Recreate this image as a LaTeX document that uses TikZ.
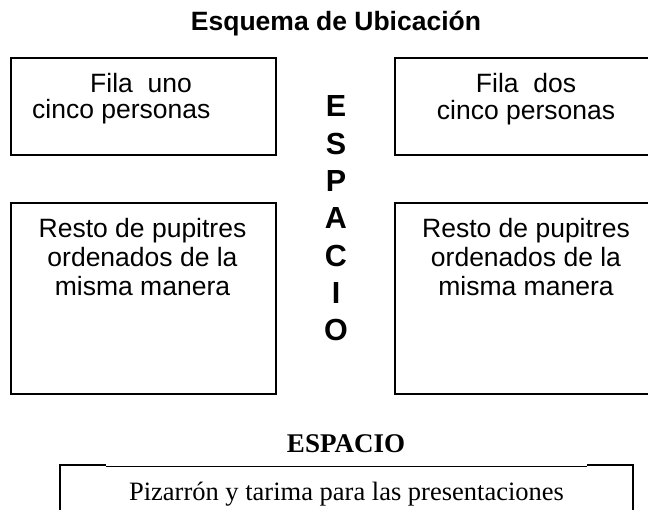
\documentclass[tikz,border=0pt]{standalone}
\usepackage{fontspec}
\setmainfont{Liberation Serif}
\newfontfamily\arial{Liberation Sans}
\begin{document}
\begin{tikzpicture}[x=1pt,y=-1pt,
  seat/.style={draw=black,line width=1.6pt,fill=none,inner sep=0pt,anchor=north west},
  boxtxt/.style={anchor=base,inner sep=0pt,font=\arial\fontsize{26.5}{29}\selectfont},
  vletter/.style={anchor=base,inner sep=0pt,font=\arial\bfseries\fontsize{30.5}{32}\selectfont},
  thinline/.style={line width=1pt},
  thickline/.style={line width=2pt}]
\useasboundingbox (0,0) rectangle (648,510);
\clip (0,0) rectangle (648,510);
% title
\node[anchor=base,inner sep=0pt,font=\arial\bfseries\fontsize{26.5}{29}\selectfont] (title) at (336,30.5) {Esquema de Ubicación};
% boxes
\node[seat,minimum width=265pt,minimum height=97pt] (f1) at (10,57) {};
\node[seat,minimum width=265pt,minimum height=97pt] (f2) at (394,57) {};
\node[seat,minimum width=265pt,minimum height=191pt] (r1) at (10,202) {};
\node[seat,minimum width=265pt,minimum height=191pt] (r2) at (394,202) {};
% texts
\node[boxtxt] (f1a) at (141,93) {Fila\ \ uno};
\node[boxtxt,anchor=base west] (f1b) at (32,119) {cinco personas};
\node[boxtxt] (f2a) at (526,93) {Fila\ \ dos};
\node[boxtxt] (f2b) at (526,120) {cinco personas};
\node[boxtxt] (r1a) at (142.5,238) {Resto de pupitres};
\node[boxtxt] (r1b) at (142.5,267) {ordenados de la};
\node[boxtxt] (r1c) at (142.5,296) {misma manera};
\node[boxtxt] (r2a) at (526,238) {Resto de pupitres};
\node[boxtxt] (r2b) at (526,267) {ordenados de la};
\node[boxtxt] (r2c) at (526,296) {misma manera};
% vertical ESPACIO
\foreach \ch [count=\i] in {E,S,P,A,C,I,O}{
  \node[vletter] (v\i) at (336,{117+37.3*(\i-1)}) {\ch};
}
% bottom
\node[anchor=base,inner sep=0pt,font=\bfseries\fontsize{27}{29}\selectfont] (esp) at (346,452) {ESPACIO};
\coordinate (pl) at (60,465);
\coordinate (pla) at (106,465);
\coordinate (pra) at (587,465);
\coordinate (pr) at (633,465);
\draw[thickline] (60,530) -- (pl) -- (pla);
\draw[thickline] (pra) -- (pr) -- (633,530);
\draw[thinline] (106,466) -- (587,466);
\node[anchor=base,inner sep=0pt,font=\fontsize{26.5}{29}\selectfont] (piz) at (346.5,500) {Pizarrón y tarima para las presentaciones};
\end{tikzpicture}
\end{document}
